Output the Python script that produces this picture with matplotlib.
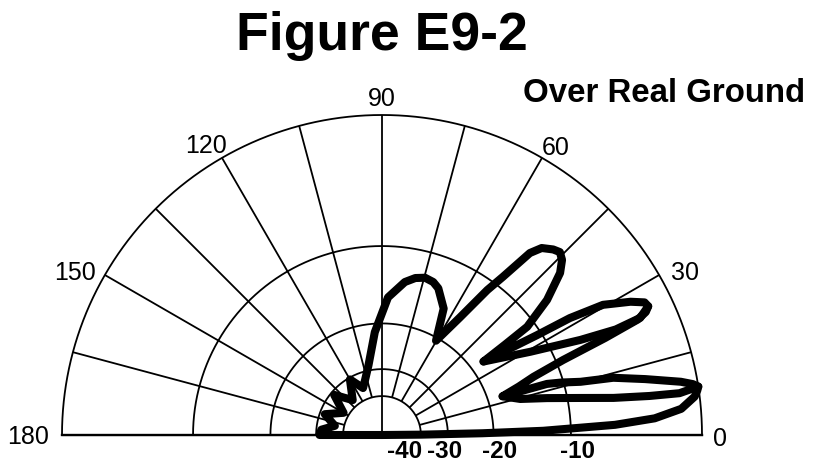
import numpy as np
import matplotlib
matplotlib.use("Agg")
import matplotlib.pyplot as plt

plt.rcParams['font.family'] = ['Liberation Sans', 'DejaVu Sans']

# ---------------- data (elevation angle in degrees, gain in dB) ----------------
main_theta = [0.0, 0.5, 1.0, 1.5, 2.5, 3.5, 5.0, 7.0, 8.0, 8.7, 9.3,
              10.1, 12.0, 13.9, 15.0, 16.3, 17.2, 17.8,
              19.5, 21.0, 22.5, 23.5, 24.3, 25.0, 25.8, 26.8,
              28.2, 30.5, 31.9, 32.8, 34.4, 35.9,
              36.3, 36.7, 39.3, 42.3, 44.2, 45.8, 47.3, 48.6,
              49.5, 50.9, 52.6, 54.0, 56.5, 60.2,
              64.0, 69.0, 71.5, 74.7, 78.0, 81.5, 87.5, 94.0, 101.0, 107.0,
              112.0, 120.0, 130.0, 140.0, 150.0, 160.0,
              169.0, 175.0, 180.0, 180.0]
main_db = [-200.0, -40.0, -22.0, -13.0, -6.0, -3.0, -1.2, -0.3, -0.1, 0.0, -0.3,
           -1.0, -3.3, -5.6, -8.4, -10.2, -11.7, -17.6,
           -15.0, -12.9, -9.3, -5.2, -2.5, -1.8, -1.5, -1.6,
           -2.4, -4.2, -7.0, -10.5, -14.7, -17.8,
           -14.0, -10.8, -7.7, -5.4, -4.6, -4.3, -4.5, -4.8,
           -5.0, -5.9, -9.0, -11.0, -15.6, -20.5,
           -15.6, -13.5, -13.0, -12.8, -13.1, -13.8, -16.0, -21.5, -28.6, -32.5,
           -35.0, -30.5, -37.0, -31.0, -37.5, -31.5,
           -36.0, -31.5, -31.0, -200.0]

# second edge of the first lobe
leaf1_theta = [8.7, 8.0, 8.3, 9.1, 10.6, 12.6, 14.6, 17.8]
leaf1_db = [0.0, -1.2, -3.2, -5.9, -8.8, -12.1, -15.3, -17.6]

# second edge of the second lobe
leaf2_theta = [35.9, 29.3, 25.6, 24.3, 24.4, 25.8]
leaf2_db = [-17.8, -12.0, -7.1, -4.2, -2.3, -1.5]

ring_db = [-40, -30, -20, -10, 0]
ring_labels = ["-40", "-30", "-20", "-10"]
spoke_deg = [15, 30, 45, 60, 75, 105, 120, 135, 150, 165]
angle_ticks = [0, 30, 60, 90, 120, 150, 180]

title = "Figure E9-2"
subtitle = "Over Real Ground"

# ---------------- ARRL-style log radial scale ----------------
STEP = 0.9  # radius ratio per 2 dB


def to_r(db):
    return STEP ** (-np.asarray(db, dtype=float) / 2.0)


W, H = 818, 466
R = 320            # outer radius in pixels
CX, CY = 382, 435  # centre of the half-disk (pixels from top-left)

fig = plt.figure(figsize=(W / 100, H / 100), dpi=100)
# a half-disk wedge is centred vertically inside a square box spanning [-R/2, 3R/2]
box_left = (CX - R) / W
box_bottom = (H - (CY + R / 2)) / H
ax = fig.add_axes([box_left, box_bottom, 2 * R / W, 2 * R / H], projection='polar')
ax.set_thetamin(0)
ax.set_thetamax(180)
ax.set_rlim(0, 1)
ax.grid(False)
ax.set_xticks([])
ax.set_yticks([])
for s in ax.spines.values():
    s.set_visible(False)

grid_kw = dict(color='black', lw=1.3, clip_on=False, solid_capstyle='butt')
th_full = np.radians(np.linspace(0, 180, 361))
for db in ring_db:
    ax.plot(th_full, np.full_like(th_full, to_r(db)), **grid_kw)
for d in spoke_deg:
    ax.plot([np.radians(d)] * 2, [to_r(-40), to_r(0)], **grid_kw)
ax.plot([np.radians(90)] * 2, [0, 1], **grid_kw)
ax.plot([0, 0], [0, 1], color='black', lw=1.7, clip_on=False)
ax.plot([np.pi, np.pi], [0, 1], color='black', lw=1.7, clip_on=False)

# pattern
pat_kw = dict(color='black', lw=5.8, clip_on=False, solid_joinstyle='round',
              solid_capstyle='round')
ax.plot(np.radians(main_theta), to_r(main_db), **pat_kw)
ax.plot(np.radians(leaf1_theta), to_r(leaf1_db), **pat_kw)
ax.plot(np.radians(leaf2_theta), to_r(leaf2_db), **pat_kw)

# angle labels (pixel nudges relative to a ring just outside the plot)
nudges = {0: (0, -4), 30: (9, -8), 60: (4, -7), 90: (0, -3),
          120: (-6, -5), 150: (-13, -8), 180: (0, -2)}
for a in angle_ticks:
    dx, dy = nudges[a]
    if a == 0:
        ax.annotate(str(a), xy=(0, 1.035), xytext=(dx, dy), textcoords='offset pixels',
                    ha='left', va='center', fontsize=18, annotation_clip=False)
    elif a == 180:
        ax.annotate(str(a), xy=(np.pi, 1.04), xytext=(dx, dy), textcoords='offset pixels',
                    ha='right', va='center', fontsize=18, annotation_clip=False)
    else:
        ax.annotate(str(a), xy=(np.radians(a), 1.06), xytext=(dx, dy),
                    textcoords='offset pixels', ha='center', va='center', fontsize=18,
                    annotation_clip=False)

# radial labels
offsets = [-16, -3, 6, 7]
for db, lab, off in zip(ring_db[:-1], ring_labels, offsets):
    ax.annotate(lab, xy=(0, to_r(db)), xytext=(off, -17), textcoords='offset pixels',
                ha='center', va='center', fontsize=17.5, fontweight='bold',
                annotation_clip=False)

fig.text(382 / W, 1 - 36 / H, title, ha='center', va='center',
         fontsize=38.5, fontweight='bold')
fig.text(664 / W, 1 - 93 / H, subtitle, ha='center', va='center',
         fontsize=23.8, fontweight='bold')

fig.savefig("out.png", dpi=100)
